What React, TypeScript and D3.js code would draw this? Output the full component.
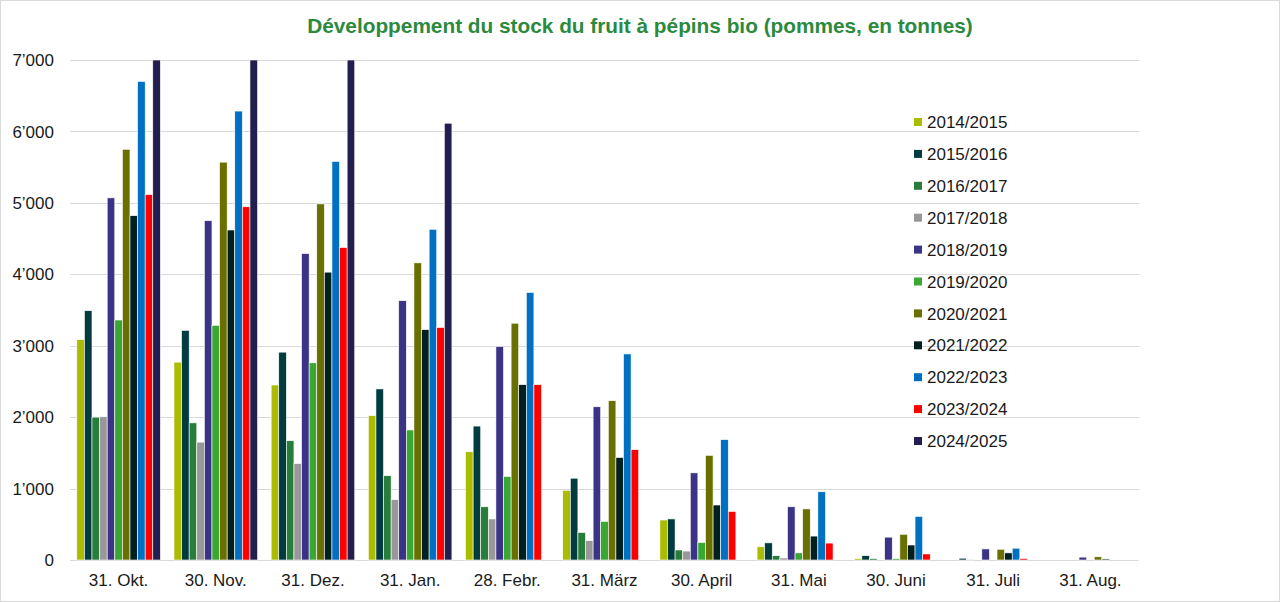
import React from "react";
import * as d3 from "d3";

const categories = ["31. Okt.", "30. Nov.", "31. Dez.", "31. Jan.", "28. Febr.", "31. März", "30. April", "31. Mai", "30. Juni", "31. Juli", "31. Aug."];
const seasons = ["2014/2015", "2015/2016", "2016/2017", "2017/2018", "2018/2019", "2019/2020", "2020/2021", "2021/2022", "2022/2023", "2023/2024", "2024/2025"];
const colors = ["#abbb00", "#023c3e", "#297d3b", "#989898", "#3b3486", "#3aa733", "#6a7000", "#02201f", "#0070c2", "#ff0000", "#221e4f"];

const s2014 = [3085, 2770, 2450, 2020, 1515, 975, 560, 185, 20, 0, 0];
const s2015 = [3490, 3215, 2910, 2395, 1875, 1145, 575, 240, 60, 25, 0];
const s2016 = [2000, 1920, 1670, 1180, 745, 385, 140, 60, 20, 10, 0];
const s2017 = [2005, 1650, 1350, 845, 575, 270, 125, 28, 0, 0, 0];
const s2018 = [5070, 4750, 4290, 3630, 2990, 2145, 1220, 745, 320, 155, 40];
const s2019 = [3360, 3285, 2760, 1820, 1170, 540, 245, 100, 20, 0, 0];
const s2020 = [5750, 5570, 4985, 4160, 3315, 2230, 1465, 715, 360, 150, 45];
const s2021 = [4820, 4620, 4030, 3225, 2455, 1435, 770, 335, 210, 100, 15];
const s2022 = [6700, 6285, 5580, 4630, 3745, 2885, 1685, 955, 610, 165, 0];
const s2023 = [5115, 4945, 4375, 3255, 2455, 1545, 680, 237, 85, 20, 0];
const s2024 = [7000, 7000, 7000, 6115, 0, 0, 0, 0, 0, 0, 0];

const seriesValues = [s2014, s2015, s2016, s2017, s2018, s2019, s2020, s2021, s2022, s2023, s2024];
const yTicks = [0, 1000, 2000, 3000, 4000, 5000, 6000, 7000];

const W = 1280;
const H = 602;
const FONT = "'Liberation Sans', Arial, sans-serif";

export default function App() {
  const x0 = d3.scaleBand<string>().domain(categories).range([70, 1139]).paddingInner(0.14).paddingOuter(0.07);
  const x1 = d3.scaleBand<string>().domain(seasons).range([0, x0.bandwidth()]).padding(0);
  const y = d3.scaleLinear().domain([0, 7000]).range([560, 60]).clamp(true);
  const fmt = (v: number) => d3.format(",")(v).replace(/,/g, "\u2019");
  const legendY = d3.scalePoint<string>().domain(seasons).range([122, 441]);

  return (
    <div style={{ position: "fixed", left: 0, top: 0, width: W, height: H }}>
      <style>{`body{margin:0}`}</style>
      <svg width={W} height={H} style={{ display: "block", fontFamily: FONT }}>
        <rect x={0.5} y={0.5} width={W - 1} height={H - 1} fill="#fff" stroke="#d9d9d9" />
        <text x={640} y={33} textAnchor="middle" fontSize={20.8} fontWeight="bold" fill="#2b8a3e">
          Développement du stock du fruit à pépins bio (pommes, en tonnes)
        </text>
        {yTicks.map((t) => (
          <g key={t}>
            <line x1={70} x2={1139} y1={Math.round(y(t)) + 0.5} y2={Math.round(y(t)) + 0.5} stroke="#d9d9d9" strokeWidth={1} />
            <text x={54} y={y(t)} dy="0.36em" textAnchor="end" fontSize={17} fill="#1a1a1a">
              {fmt(t)}
            </text>
          </g>
        ))}
        {categories.map((c, ci) => (
          <g key={c} transform={`translate(${x0(c)},0)`}>
            {seasons.map((s, si) => {
              const v = seriesValues[si][ci];
              if (!v) return null;
              return (
                <rect
                  key={s}
                  x={x1(s)}
                  y={y(v)}
                  width={x1.bandwidth()}
                  height={y(0) - y(v)}
                  fill={colors[si]}
                  stroke="#ffffff"
                  strokeWidth={0.6}
                />
              );
            })}
            <text x={x0.bandwidth() / 2} y={586} textAnchor="middle" fontSize={17} fill="#1a1a1a">
              {c}
            </text>
          </g>
        ))}
        {seasons.map((s, si) => (
          <g key={s} transform={`translate(0,${legendY(s)})`}>
            <rect x={914} y={-4} width={8} height={8} fill={colors[si]} />
            <text x={927} y={0} dy="0.36em" fontSize={17} fill="#1a1a1a">
              {s}
            </text>
          </g>
        ))}
      </svg>
    </div>
  );
}
